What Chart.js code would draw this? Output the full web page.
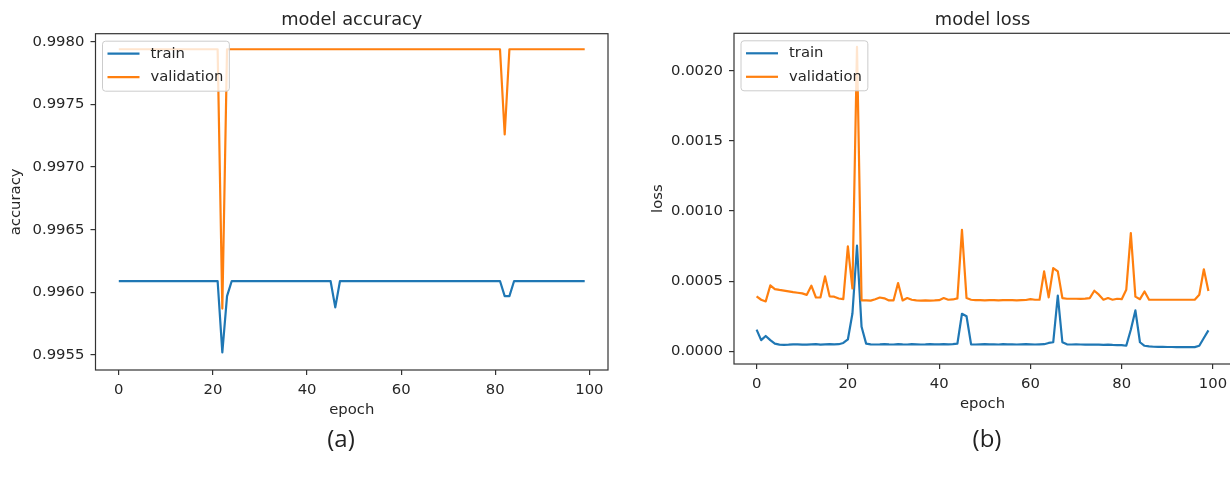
<!DOCTYPE html>
<html>
<head>
<meta charset="utf-8">
<title>model accuracy / model loss</title>
<script src="https://cdn.jsdelivr.net/npm/chart.js@4.4.0/dist/chart.umd.min.js"></script>
<style>
  html, body { margin: 0; padding: 0; background: #fff; overflow: hidden; }
  body { width: 1230px; height: 478px; position: relative; }
  canvas { position: absolute; top: 0; }
  #accuracy { left: 0; }
  #loss { left: 640px; }
  .caption {
    position: absolute; top: 437px; transform: translate(-50%, -50%);
    font-family: "Open Sans", sans-serif; font-size: 24px; color: #222;
  }
</style>
</head>
<body>
<canvas id="accuracy" width="620" height="430"></canvas>
<canvas id="loss" width="600" height="424"></canvas>
<div class="caption" style="left:341px">(a)</div>
<div class="caption" style="left:987px">(b)</div>

<script>
// training history, one entry per epoch
const epochs = Array.from({ length: 100 }, (_, i) => i);

const accTrain = [
  0.99609, 0.99609, 0.99609, 0.99609, 0.99609, 0.99609, 0.99609, 0.99609, 0.99609, 0.99609,
  0.99609, 0.99609, 0.99609, 0.99609, 0.99609, 0.99609, 0.99609, 0.99609, 0.99609, 0.99609,
  0.99609, 0.99609, 0.99552, 0.99597, 0.99609, 0.99609, 0.99609, 0.99609, 0.99609, 0.99609,
  0.99609, 0.99609, 0.99609, 0.99609, 0.99609, 0.99609, 0.99609, 0.99609, 0.99609, 0.99609,
  0.99609, 0.99609, 0.99609, 0.99609, 0.99609, 0.99609, 0.99588, 0.99609, 0.99609, 0.99609,
  0.99609, 0.99609, 0.99609, 0.99609, 0.99609, 0.99609, 0.99609, 0.99609, 0.99609, 0.99609,
  0.99609, 0.99609, 0.99609, 0.99609, 0.99609, 0.99609, 0.99609, 0.99609, 0.99609, 0.99609,
  0.99609, 0.99609, 0.99609, 0.99609, 0.99609, 0.99609, 0.99609, 0.99609, 0.99609, 0.99609,
  0.99609, 0.99609, 0.99597, 0.99597, 0.99609, 0.99609, 0.99609, 0.99609, 0.99609, 0.99609,
  0.99609, 0.99609, 0.99609, 0.99609, 0.99609, 0.99609, 0.99609, 0.99609, 0.99609, 0.99609,
];

const accVal = [
  0.99794, 0.99794, 0.99794, 0.99794, 0.99794, 0.99794, 0.99794, 0.99794, 0.99794, 0.99794,
  0.99794, 0.99794, 0.99794, 0.99794, 0.99794, 0.99794, 0.99794, 0.99794, 0.99794, 0.99794,
  0.99794, 0.99794, 0.99587, 0.99794, 0.99794, 0.99794, 0.99794, 0.99794, 0.99794, 0.99794,
  0.99794, 0.99794, 0.99794, 0.99794, 0.99794, 0.99794, 0.99794, 0.99794, 0.99794, 0.99794,
  0.99794, 0.99794, 0.99794, 0.99794, 0.99794, 0.99794, 0.99794, 0.99794, 0.99794, 0.99794,
  0.99794, 0.99794, 0.99794, 0.99794, 0.99794, 0.99794, 0.99794, 0.99794, 0.99794, 0.99794,
  0.99794, 0.99794, 0.99794, 0.99794, 0.99794, 0.99794, 0.99794, 0.99794, 0.99794, 0.99794,
  0.99794, 0.99794, 0.99794, 0.99794, 0.99794, 0.99794, 0.99794, 0.99794, 0.99794, 0.99794,
  0.99794, 0.99794, 0.99726, 0.99794, 0.99794, 0.99794, 0.99794, 0.99794, 0.99794, 0.99794,
  0.99794, 0.99794, 0.99794, 0.99794, 0.99794, 0.99794, 0.99794, 0.99794, 0.99794, 0.99794,
];

const lossTrain = [
  0.000155, 0.00008, 0.00011, 0.00008, 0.000055, 0.000048, 0.000047, 0.000048, 0.00005, 0.00005,
  0.000048, 0.000048, 0.00005, 0.000052, 0.000048, 0.00005, 0.000052, 0.00005, 0.000051, 0.00006,
  0.000085, 0.00027, 0.000753, 0.000175, 0.000055, 0.00005, 0.000049, 0.00005, 0.000052, 0.00005,
  0.000049, 0.000052, 0.00005, 0.000049, 0.000051, 0.00005, 0.000049, 0.00005, 0.000052, 0.00005,
  0.00005, 0.000051, 0.00005, 0.000052, 0.000055, 0.000268, 0.00025, 0.00005, 0.000049, 0.00005,
  0.000051, 0.00005, 0.00005, 0.000049, 0.000051, 0.00005, 0.00005, 0.000049, 0.00005, 0.000051,
  0.00005, 0.000049, 0.00005, 0.000051, 0.00006, 0.000065, 0.000397, 0.000065, 0.00005, 0.000049,
  0.00005, 0.000049, 0.000048, 0.000049, 0.000048, 0.000048, 0.000047, 0.000048, 0.000046, 0.000045,
  0.000044, 0.00004, 0.000154, 0.000292, 0.000065, 0.00004, 0.000035, 0.000033, 0.000032, 0.000032,
  0.000031, 0.000031, 0.00003, 0.00003, 0.00003, 0.00003, 0.00003, 0.00004, 0.000095, 0.00015,
];

const lossVal = [
  0.000392, 0.000368, 0.000356, 0.00047, 0.000444, 0.000438, 0.000433, 0.000428, 0.000422, 0.000418,
  0.000413, 0.000403, 0.000468, 0.000384, 0.000385, 0.000534, 0.000392, 0.00039, 0.000377, 0.000372,
  0.000748, 0.000448, 0.00217, 0.000363, 0.000363, 0.000362, 0.000372, 0.000384, 0.000378, 0.000363,
  0.000363, 0.000487, 0.000363, 0.00038, 0.000368, 0.000363, 0.000362, 0.000363, 0.000362, 0.000363,
  0.000365, 0.00038, 0.000368, 0.00037, 0.000378, 0.000866, 0.00038, 0.000368, 0.000365, 0.000365,
  0.000364, 0.000365, 0.000365, 0.000364, 0.000365, 0.000366, 0.000365, 0.000364, 0.000365, 0.000366,
  0.000372, 0.000368, 0.000368, 0.00057, 0.000385, 0.000594, 0.00057, 0.00038, 0.000375, 0.000375,
  0.000375, 0.000374, 0.000376, 0.00038, 0.000432, 0.000404, 0.000368, 0.00038, 0.000368, 0.000375,
  0.000372, 0.000439, 0.000843, 0.00039, 0.000372, 0.000427, 0.000368, 0.000368, 0.000368, 0.000368,
  0.000368, 0.000368, 0.000368, 0.000368, 0.000368, 0.000368, 0.000368, 0.000404, 0.000585, 0.00043,
];

const epochTicks = [0, 20, 40, 60, 80, 100];
const accTicks = [0.9955, 0.996, 0.9965, 0.997, 0.9975, 0.998];
const lossTicks = [0, 0.0005, 0.001, 0.0015, 0.002];

const BLUE = "#1f77b4";
const ORANGE = "#ff7f0e";
const INK = "#262626";
const FONT = "DejaVu Sans";

Chart.defaults.font.family = FONT;
Chart.defaults.font.size = 14.8;
Chart.defaults.color = INK;

// box round the plot area (all four spines)
const frame = {
  id: "frame",
  afterDatasetsDraw(chart) {
    const { ctx, chartArea: a } = chart;
    ctx.save();
    ctx.strokeStyle = "#333";
    ctx.lineWidth = 1.2;
    ctx.strokeRect(a.left, a.top, a.right - a.left, a.bottom - a.top);
    ctx.restore();
  },
};

// title centred over the plot area, not the canvas
const axTitle = {
  id: "axTitle",
  afterDraw(chart, args, opts) {
    const { ctx, chartArea: a } = chart;
    ctx.save();
    ctx.font = `17.8px "${FONT}"`;
    ctx.fillStyle = INK;
    ctx.textAlign = "center";
    ctx.textBaseline = "alphabetic";
    ctx.fillText(opts.text, (a.left + a.right) / 2, a.top - 8.5);
    ctx.restore();
  },
};

// legend in the upper left corner, framed, half see-through
const boxLegend = {
  id: "boxLegend",
  afterDatasetsDraw(chart) {
    const { ctx, chartArea: a } = chart;
    const sets = chart.data.datasets;
    ctx.save();
    ctx.font = `14.8px "${FONT}"`;
    const textW = Math.max(...sets.map((d) => ctx.measureText(d.label).width));
    const x = a.left + 7;
    const y = a.top + 7.5;
    ctx.beginPath();
    ctx.roundRect(x, y, 48 + textW + 6, 50, 3);
    ctx.fillStyle = "rgba(255,255,255,0.8)";
    ctx.fill();
    ctx.strokeStyle = "#cccccc";
    ctx.lineWidth = 1;
    ctx.stroke();
    sets.forEach((d, i) => {
      const ly = y + 12.5 + i * 23.5;
      ctx.beginPath();
      ctx.moveTo(x + 5, ly);
      ctx.lineTo(x + 37, ly);
      ctx.strokeStyle = d.borderColor;
      ctx.lineWidth = d.borderWidth;
      ctx.stroke();
      ctx.fillStyle = INK;
      ctx.textBaseline = "middle";
      ctx.fillText(d.label, x + 48, ly);
    });
    ctx.restore();
  },
};

const tickGrid = { drawOnChartArea: false, tickLength: 5, color: "#333", lineWidth: 1.2 };

new Chart(document.getElementById("accuracy"), {
  type: "line",
  data: {
    labels: epochs,
    datasets: [
      { label: "train", data: accTrain, borderColor: BLUE, backgroundColor: BLUE, borderWidth: 2.2, order: 1 },
      { label: "validation", data: accVal, borderColor: ORANGE, backgroundColor: ORANGE, borderWidth: 2.2, order: 0 },
    ],
  },
  options: {
    responsive: false,
    animation: false,
    devicePixelRatio: 1,
    layout: { padding: { left: 0, top: 33.7, right: 12, bottom: 0 } },
    elements: { point: { radius: 0 }, line: { tension: 0, borderJoinStyle: "round" } },
    scales: {
      x: {
        type: "linear",
        min: -4.95,
        max: 103.95,
        bounds: "data",
        afterBuildTicks: (s) => { s.ticks = epochTicks.map((v) => ({ value: v })); },
        afterFit: (s) => { s.height = 60; },
        grid: tickGrid,
        border: { display: false },
        ticks: { padding: 6, callback: (v) => v },
        title: { display: true, text: "epoch", padding: { top: 0, bottom: 11 } },
      },
      y: {
        min: 0.99538,
        max: 0.998064,
        bounds: "data",
        afterBuildTicks: (s) => { s.ticks = accTicks.map((v) => ({ value: v })); },
        afterFit: (s) => { s.width = 95.5; },
        grid: tickGrid,
        border: { display: false },
        ticks: { padding: 6.2, callback: (v) => v.toFixed(4) },
        title: { display: true, text: "accuracy", padding: { top: 7, bottom: 0 } },
      },
    },
    plugins: {
      legend: { display: false },
      tooltip: { enabled: false },
      axTitle: { text: "model accuracy" },
    },
  },
  plugins: [frame, axTitle, boxLegend],
});

new Chart(document.getElementById("loss"), {
  type: "line",
  data: {
    labels: epochs,
    datasets: [
      { label: "train", data: lossTrain, borderColor: BLUE, backgroundColor: BLUE, borderWidth: 2.2, order: 1 },
      { label: "validation", data: lossVal, borderColor: ORANGE, backgroundColor: ORANGE, borderWidth: 2.2, order: 0 },
    ],
  },
  options: {
    responsive: false,
    animation: false,
    devicePixelRatio: 1,
    layout: { padding: { left: 0, top: 33.3, right: 9, bottom: 0 } },
    elements: { point: { radius: 0 }, line: { tension: 0, borderJoinStyle: "round" } },
    scales: {
      x: {
        type: "linear",
        min: -4.95,
        max: 103.95,
        bounds: "data",
        afterBuildTicks: (s) => { s.ticks = epochTicks.map((v) => ({ value: v })); },
        afterFit: (s) => { s.height = 60; },
        grid: tickGrid,
        border: { display: false },
        ticks: { padding: 6, callback: (v) => v },
        title: { display: true, text: "epoch", padding: { top: 0, bottom: 11 } },
      },
      y: {
        min: -0.00009,
        max: 0.002267,
        bounds: "data",
        afterBuildTicks: (s) => { s.ticks = lossTicks.map((v) => ({ value: v })); },
        afterFit: (s) => { s.width = 94; },
        grid: tickGrid,
        border: { display: false },
        ticks: { padding: 6.2, callback: (v) => v.toFixed(4) },
        title: { display: true, text: "loss", padding: { top: 9.4, bottom: 0 } },
      },
    },
    plugins: {
      legend: { display: false },
      tooltip: { enabled: false },
      axTitle: { text: "model loss" },
    },
  },
  plugins: [frame, axTitle, boxLegend],
});
</script>
</body>
</html>
